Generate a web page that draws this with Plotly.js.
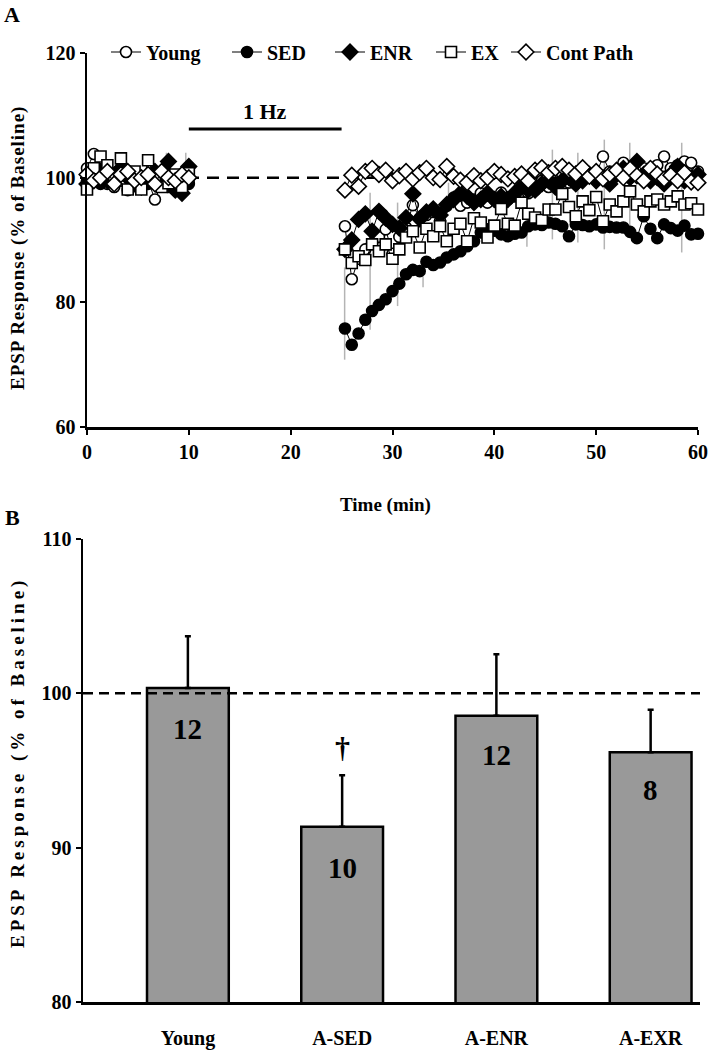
<!DOCTYPE html>
<html>
<head>
<meta charset="utf-8">
<script src="https://cdn.plot.ly/plotly-3.0.1.min.js"></script>
<style>
  html, body { margin: 0; padding: 0; background: #fff; }
  #chart { width: 714px; height: 1050px; }
</style>
</head>
<body>
<div id="chart"></div>
<script>
// time points (min)
const baseTime = [0, 0.67, 1.33, 2, 2.67, 3.33, 4, 4.67, 5.33, 6, 6.67, 7.33, 8, 8.67, 9.33, 10];
const postTime = [25.33, 26, 26.67, 27.33, 28, 28.67, 29.33, 30, 30.67, 31.33, 32, 32.67, 33.33, 34, 34.67,
    35.33, 36, 36.67, 37.33, 38, 38.67, 39.33, 40, 40.67, 41.33, 42, 42.67, 43.33, 44, 44.67, 45.33, 46,
    46.67, 47.33, 48, 48.67, 49.33, 50, 50.67, 51.33, 52, 52.67, 53.33, 54, 54.67, 55.33, 56, 56.67, 57.33,
    58, 58.67, 59.33, 60];

// EPSP (% of baseline), panel A
const youngBase = [101.5, 103.8, 100.5, 99, 98.5, 99.5, 98, 99, 98.5, 99.5, 96.5, 99, 98.5, 100, 98.5, 99.7];
const youngPost = [92.2, 83.7, 87, 88.5, 89.5, 90.5, 91.7, 87.8, 90.5, 92, 95.6, 93.5, 94, 94.5, 93, 95.5,
    96.8, 95.5, 96, 96.5, 97.5, 96, 96.5, 97.6, 96.5, 97, 98.5, 97.5, 98, 99.5, 98.5, 99, 100.5, 99.2, 100,
    101, 100, 100.5, 103.4, 101, 100.5, 102.4, 101, 100.5, 101.5, 100.5, 102, 103.4, 101.5, 102, 102.6,
    102.4, 101];

const sedBase = [99.5, 100, 99, 100.5, 99.5, 101, 100.5, 99.5, 100, 99, 99.5, 100, 99.5, 98.5, 99.5, 99];
const sedPost = [75.8, 73.2, 75, 77.2, 78.6, 79.6, 80.5, 81.8, 83, 84.5, 85.2, 85, 86.5, 86, 86.4, 87.2,
    87.7, 88.2, 89, 89.8, 91.2, 91.7, 91.5, 90.9, 90.6, 91, 91.2, 92.2, 92.5, 92.4, 92.8, 92.6, 92.2, 90.6,
    92.5, 92.4, 92.2, 92.5, 92, 92.1, 92, 92, 91.3, 90.3, 93.8, 91.8, 90.3, 92.5, 91.9, 91.5, 92.3, 90.9, 91];

const enrBase = [99, 100.5, 101, 99.5, 100, 101.5, 100, 99, 98.5, 100, 101, 99, 102.6, 98, 97.5, 101.8];
const enrPost = [88.5, 90, 93.3, 94.2, 91.4, 94.6, 93.5, 92.5, 91.9, 93.6, 97.4, 93.4, 94.5, 95, 94, 95.7,
    96.5, 97.5, 97, 96, 96.5, 97.5, 96.5, 97, 96.5, 97.5, 98.5, 98, 98, 99, 99.5, 98.5, 99.5, 100, 99, 99.5,
    100.5, 99.5, 100, 99, 100.5, 101.5, 100, 102.6, 100.5, 99.5, 100, 99, 100.5, 101.8, 99.5, 100, 100.5];

const exBase = [98.1, 101.5, 103.4, 102, 99.9, 103.1, 98.1, 101, 98.1, 102.8, 100, 98.5, 99.1, 100.5, 98.5, 100.7];
const exPost = [88.5, 86.3, 87.4, 86.8, 89.3, 88.2, 89.3, 87, 88.5, 90.4, 91.4, 88.8, 91.8, 90.6, 92.2,
    89.8, 91.8, 92.6, 89.8, 93.5, 92.8, 90.4, 92.3, 95, 92.6, 92.3, 96, 94.2, 93.6, 93.2, 94.9, 94.9, 97.4,
    95.3, 93.8, 96.2, 94.8, 96.9, 93, 95.7, 94.6, 96.2, 97.8, 95.7, 94.6, 96.2, 96.5, 95.7, 96.2, 97, 95.7,
    95.9, 94.9];

const contBase = [100.5, 99.5, 100, 101, 99, 100.5, 101, 99.5, 100, 100.5, 99, 101, 100, 99.5, 100.5, 100];
const contPost = [98, 100.4, 98.6, 101, 101.5, 100.5, 101.2, 99.5, 100.3, 101, 99.8, 100.8, 101.5, 100,
    99.7, 101.8, 100.2, 99.6, 99.2, 100.3, 99.5, 100, 101, 100.5, 99.8, 100.2, 100.6, 99.5, 101.2, 101.6,
    100.8, 101.5, 101.8, 101.2, 100.6, 101.6, 100.2, 101, 99.8, 100.5, 101.2, 100, 101.4, 100.3, 99.5,
    101.5, 100.6, 99.8, 100.4, 99.5, 100.8, 99.3, 99.2];

// grey SEM bars that stick out from behind the markers
const semTime = [7.8, 9.7, 25.3, 27.8, 30.5, 33, 35.5, 43.2, 45.7, 48.2, 50.8, 53.3, 55.8, 58.4, 60.3];
const semMid = [102.8, 102.8, 78.2, 86.6, 87.7, 83.3, 98.1, 90.3, 97.3, 96.8, 97.3, 98.6, 90.6, 96.8, 96.5];
const semHalf = [1.2, 1.2, 7.4, 11, 8.3, 0.9, 1.1, 1.4, 7.2, 7.2, 8.8, 7, 1, 8.8, 9.1];

// panel B
const groups = ["Young", "A-SED", "A-ENR", "A-EXR"];
const groupMean = [100.35, 91.35, 98.54, 96.19];
const groupSem = [3.35, 3.35, 4.0, 2.74];
const groupN = ["12", "10", "12", "8"];
const groupNPos = [97.7, 88.7, 96.0, 93.75];
const daggerPos = 96.5;

const FONT = '"Liberation Serif", "Times New Roman", Times, serif';
const W = 714, H = 1050;
const px = (v) => v / W;
const py = (v) => 1 - v / H;

// left edge (px) of each legend entry, panel A
const legendLeft = [106, 227, 330, 431, 506];

function series(name, base, post, symbol, filled, size, legendId) {
    return {
        x: [...baseTime, null, ...postTime],
        y: [...base, null, ...post],
        name: name,
        legend: legendId,
        type: "scatter",
        mode: "lines+markers",
        cliponaxis: false,
        line: { color: "#000", width: 1 },
        marker: {
            symbol: symbol,
            size: size,
            color: filled ? "#000" : "#fff",
            line: { color: "#000", width: 1.6 }
        },
        xaxis: "x",
        yaxis: "y"
    };
}

const semTrace = {
    x: semTime,
    y: semMid,
    type: "scatter",
    mode: "markers",
    showlegend: false,
    hoverinfo: "skip",
    cliponaxis: false,
    marker: { size: 0.1, color: "rgba(0,0,0,0)" },
    error_y: { type: "data", array: semHalf, color: "#b4b4b4", thickness: 1.5, width: 0 },
    xaxis: "x",
    yaxis: "y"
};

const traces = [
    semTrace,
    series("Young", youngBase, youngPost, "circle", false, 11, "legend"),
    series("SED", sedBase, sedPost, "circle", true, 11, "legend2"),
    series("ENR", enrBase, enrPost, "diamond", true, 12, "legend3"),
    series("EX", exBase, exPost, "square", false, 11, "legend4"),
    series("Cont Path", contBase, contPost, "diamond", false, 12, "legend5"),
    {
        x: groups,
        y: groupMean,
        type: "bar",
        width: 0.53,
        showlegend: false,
        marker: { color: "#999999", line: { color: "#000", width: 2.5 } },
        error_y: {
            type: "data", symmetric: false, array: groupSem,
            arrayminus: groupSem.map(() => 0),
            color: "#000", thickness: 2.5, width: 3
        },
        xaxis: "x2",
        yaxis: "y2"
    }
];

const axisCommon = {
    showline: true,
    linecolor: "#000",
    linewidth: 2.5,
    showgrid: false,
    zeroline: false,
    ticks: "outside",
    ticklen: 5,
    tickwidth: 2,
    tickcolor: "#000",
    tickfont: { family: FONT, size: 20, color: "#000", weight: 700 }
};

const annotations = [
    { text: "A", x: px(12), y: py(15) },
    { text: "B", x: px(12), y: py(517) },
    { text: "Time (min)", x: px(385), y: py(505), size: 19 },
    { text: '<span style="letter-spacing:1px">EPSP Response (% of Baseline)</span>', x: px(18), y: py(248), angle: -90, size: 19 },
    { text: '<span style="letter-spacing:4px">EPSP Response (% of Baseline)</span>', x: px(18), y: py(763), angle: -90, size: 19 }
].map(a => ({
    text: a.text, x: a.x, y: a.y, xref: "paper", yref: "paper",
    xanchor: "center", yanchor: "middle", showarrow: false,
    textangle: a.angle || 0,
    font: { family: FONT, size: a.size || 22, color: "#000", weight: 700 }
}));

annotations.push({
    text: "1 Hz", x: 17.5, y: 110.6, xref: "x", yref: "y", showarrow: false,
    font: { family: FONT, size: 22, color: "#000", weight: 700 }
});

groups.forEach((g, i) => {
    annotations.push({
        text: groupN[i], x: g, y: groupNPos[i], xref: "x2", yref: "y2", showarrow: false,
        font: { family: FONT, size: 29, color: "#000", weight: 700 }
    });
});
annotations.push({
    text: "†", x: groups[1], y: daggerPos, xref: "x2", yref: "y2", showarrow: false,
    font: { family: FONT, size: 30, color: "#000", weight: 700 }
});

function legendAt(left) {
    return {
        orientation: "h",
        x: px(left), y: py(52),
        xanchor: "left", yanchor: "middle",
        bgcolor: "rgba(0,0,0,0)",
        itemwidth: 30,
        font: { family: FONT, size: 20, color: "#000", weight: 700 }
    };
}

const layout = {
    width: W,
    height: H,
    margin: { l: 0, r: 0, t: 0, b: 0 },
    paper_bgcolor: "#fff",
    plot_bgcolor: "rgba(0,0,0,0)",
    font: { family: FONT, color: "#000", weight: 700 },
    showlegend: true,
    legend: legendAt(legendLeft[0]),
    legend2: legendAt(legendLeft[1]),
    legend3: legendAt(legendLeft[2]),
    legend4: legendAt(legendLeft[3]),
    legend5: legendAt(legendLeft[4]),
    xaxis: {
        ...axisCommon,
        domain: [px(87), px(698)],
        range: [0, 60],
        tickvals: [0, 10, 20, 30, 40, 50, 60],
        anchor: "y"
    },
    yaxis: {
        ...axisCommon,
        domain: [py(427), py(53)],
        range: [60, 120],
        tickvals: [60, 80, 100, 120],
        anchor: "x"
    },
    xaxis2: {
        ...axisCommon,
        domain: [px(83), px(700)],
        range: [-0.68, 3.32],
        type: "category",
        ticks: "",
        ticklabelstandoff: 16,
        anchor: "y2"
    },
    yaxis2: {
        ...axisCommon,
        domain: [py(1002), py(539)],
        range: [80, 110],
        tickvals: [80, 90, 100, 110],
        anchor: "x2"
    },
    shapes: [
        { type: "line", xref: "x", yref: "y", x0: 0, x1: 60, y0: 100, y1: 100, layer: "below",
          line: { color: "#000", width: 2.5, dash: "12px,8px" } },
        { type: "line", xref: "x", yref: "y", x0: 10, x1: 25, y0: 107.8, y1: 107.8,
          line: { color: "#000", width: 3 } },
        { type: "line", xref: "x2 domain", yref: "y2", x0: 0, x1: 1, y0: 100, y1: 100, layer: "above",
          line: { color: "#000", width: 2.5, dash: "10px,6px" } }
    ],
    annotations: annotations
};

Plotly.newPlot("chart", traces, layout, { staticPlot: true });
</script>
</body>
</html>
